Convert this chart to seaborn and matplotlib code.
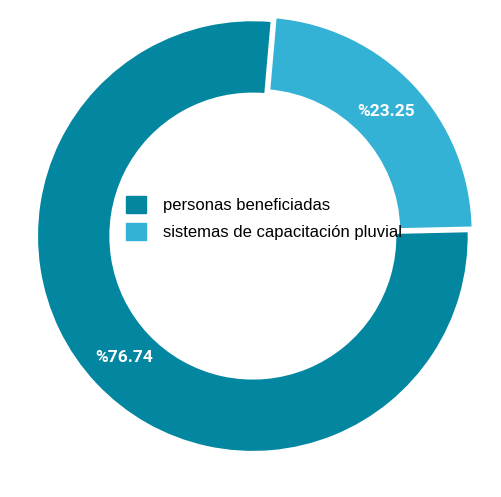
import matplotlib
matplotlib.use("Agg")
import matplotlib.pyplot as plt
import matplotlib.patches as mpatches
import seaborn as sns

categories = ["sistemas de capacitación pluvial", "personas beneficiadas"]
values = [23.25, 76.74]
pct_labels = ["%23.25", "%76.74"]
colors = ["#33b2d5", "#03869f"]

sns.set_style("white")
plt.rcParams['font.family'] = ['Liberation Sans', 'DejaVu Sans']

fig = plt.figure(figsize=(5.02, 4.97), dpi=100)
ax = fig.add_axes([0.0307, 0.047, 0.946, 0.956])

label_iter = iter(pct_labels)
wedges, texts, autotexts = ax.pie(
    values,
    colors=colors,
    startangle=85,
    counterclock=False,
    explode=[0.025, 0],
    radius=1,
    autopct=lambda p: next(label_iter),
    pctdistance=0.82,
    wedgeprops=dict(width=0.34, edgecolor="white", linewidth=1.5),
)
for t in autotexts:
    t.set_color("white")
    t.set_fontweight("bold")
    t.set_fontsize(12.5)
    t.set_family(["Roboto", "DejaVu Sans"])

ax.set_xlim(-1.1, 1.1)
ax.set_ylim(-1.1, 1.1)
ax.set_aspect("equal")
ax.axis("off")

# legend inside the hole
handles = [mpatches.Patch(color=colors[1], label=categories[1]),
           mpatches.Patch(color=colors[0], label=categories[0])]
leg = fig.legend(handles=handles, loc="upper left", bbox_to_anchor=(0.235, 0.623),
                 frameon=False, fontsize=12, handlelength=1.2, handleheight=1.2,
                 handletextpad=1.0, labelspacing=0.62, borderpad=0)
for t in leg.get_texts():
    t.set_color("black")

fig.savefig("out.png", dpi=100)
